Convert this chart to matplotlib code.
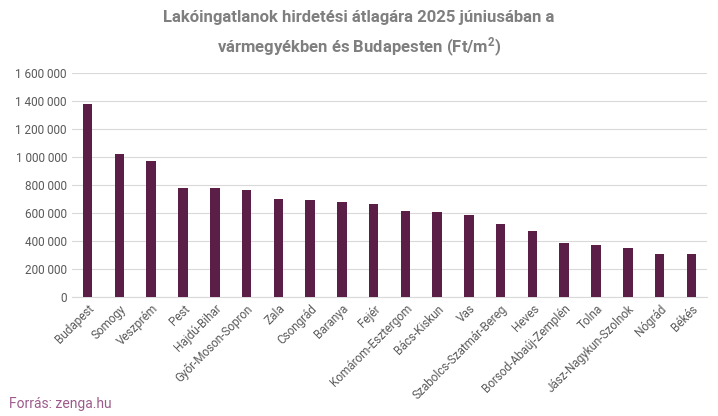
import matplotlib
matplotlib.use("Agg")
import matplotlib.pyplot as plt
from matplotlib.ticker import FuncFormatter

plt.rcParams["font.family"] = "Roboto"

megyek = ["Budapest", "Somogy", "Veszprém", "Pest", "Hajdú-Bihar", "Győr-Moson-Sopron",
          "Zala", "Csongrád", "Baranya", "Fejér", "Komárom-Esztergom", "Bács-Kiskun",
          "Vas", "Szabolcs-Szatmár-Bereg", "Heves", "Borsod-Abaúj-Zemplén", "Tolna",
          "Jász-Nagykun-Szolnok", "Nógrád", "Békés"]
arak = [1380000, 1025000, 970000, 780000, 778000, 762000, 700000, 695000, 680000,
        665000, 617000, 607000, 590000, 520000, 475000, 385000, 370000, 352000,
        312000, 307000]

fig = plt.figure(figsize=(7.18, 4.16), dpi=100)
ax = fig.add_axes([0.1, 0.285, 0.885, 0.54])
ax.bar(range(len(megyek)), arak, width=0.3, color="#5b1f47", zorder=3)
ax.set_ylim(0, 1600000)
ax.set_yticks(range(0, 1600001, 200000))
ax.yaxis.set_major_formatter(FuncFormatter(lambda v, p: f"{int(v):,}".replace(",", " ")))
ax.grid(axis="y", color="#d9d9d9", linewidth=0.8, zorder=0)
ax.set_xlim(-0.5, len(megyek) - 0.5)
ax.set_xticks(range(len(megyek)))
ax.set_xticklabels(megyek, rotation=45, ha="right", rotation_mode="anchor", fontsize=8.5, color="#595959")
ax.tick_params(axis="y", labelsize=8.5, colors="#595959", length=0)
ax.tick_params(axis="x", length=0)
for s in ["top", "right", "left"]:
    ax.spines[s].set_visible(False)
ax.spines["bottom"].set_color("#d9d9d9")

fig.text(0.5, 0.975, "Lakóingatlanok hirdetési átlagára 2025 júniusában a", ha="center", va="top",
         fontsize=12, fontweight="bold", color="#7f7f7f")
fig.text(0.5, 0.915, "vármegyékben és Budapesten $\\mathregular{(Ft/m^2)}$", ha="center", va="top",
         fontsize=12, fontweight="bold", color="#7f7f7f")
fig.text(0.012, 0.02, "Forrás: zenga.hu", fontsize=10, color="#9b5a8a")

fig.savefig("out.png", dpi=100)
